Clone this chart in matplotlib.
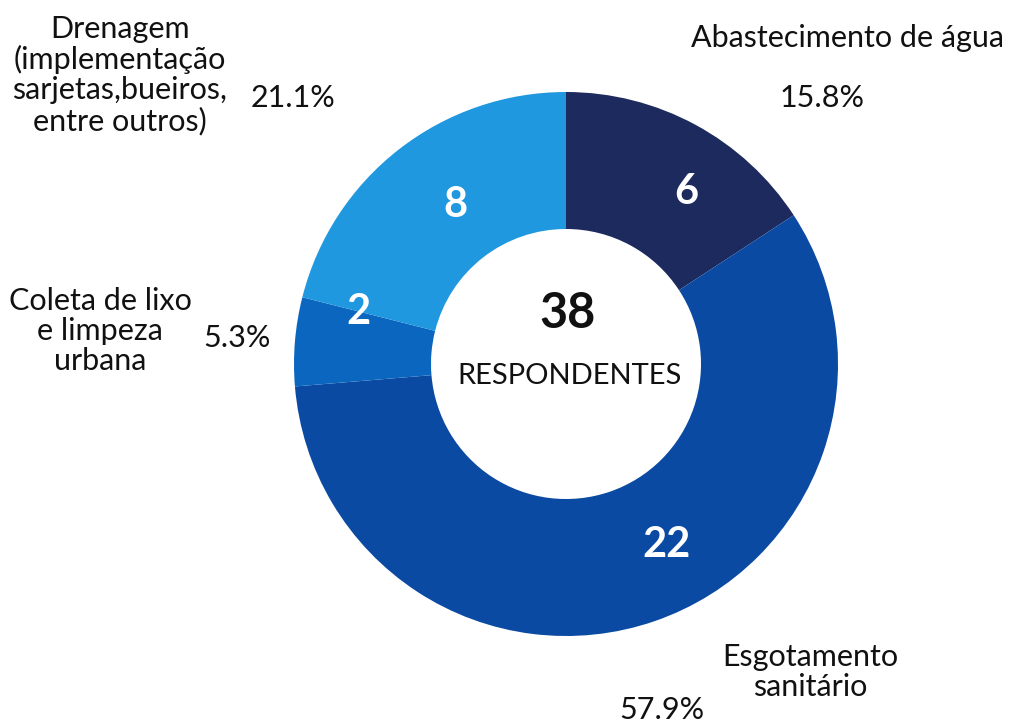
import matplotlib.pyplot as plt

plt.rcParams['font.family'] = ['Lato', 'DejaVu Sans']

# data
categories = ["Abastecimento de água", "Esgotamento\nsanitário",
              "Coleta de lixo\ne limpeza\nurbana",
              "Drenagem\n(implementação\nsarjetas,bueiros,\nentre outros)"]
counts = [6, 22, 2, 8]
colors = ["#1d2a5e", "#0b4aa2", "#0b66c0", "#1f98e0"]
total = sum(counts)

W, H = 1018, 727
fig = plt.figure(figsize=(W / 100, H / 100), dpi=100)
ax = fig.add_axes([0, 0, 1, 1])

cx, cy = 566, H - 364
R = 272
ax.pie(counts, colors=colors, startangle=90, counterclock=False,
       radius=R, center=(cx, cy),
       wedgeprops=dict(width=R - 135, linewidth=0))
ax.set_xlim(0, W)
ax.set_ylim(0, H)
ax.set_aspect('equal')
ax.axis('off')

# counts inside the ring
num_pos = [(686, 192), (667, 545), (358, 312), (455, 205)]
for (x, y), n in zip(num_pos, counts):
    ax.text(x, H - y, str(n), color="white", fontsize=30, fontweight="bold",
            ha="center", va="center")

ax.text(cx + 2, H - 314, str(total), fontsize=35, fontweight="bold",
        ha="center", va="center", color="#111111")
ax.text(cx + 4, H - 376, "RESPONDENTES", fontsize=21, ha="center", va="center",
        color="#111111")

# outer labels
label_pos = [(848, 38), (810, 672), (100, 331), (120, 75)]
pct_pos = [(822, 98), (662, 710), (237, 338), (293, 98)]
for lab, (lx, ly), (px, py), n in zip(categories, label_pos, pct_pos, counts):
    ax.text(lx, H - ly, lab, fontsize=22, ha="center", va="center",
            linespacing=1.1, color="#111111")
    ax.text(px, H - py, f"{n / total * 100:.1f}%", fontsize=22,
            ha="center", va="center", color="#111111")

fig.savefig("out.png", dpi=100)
